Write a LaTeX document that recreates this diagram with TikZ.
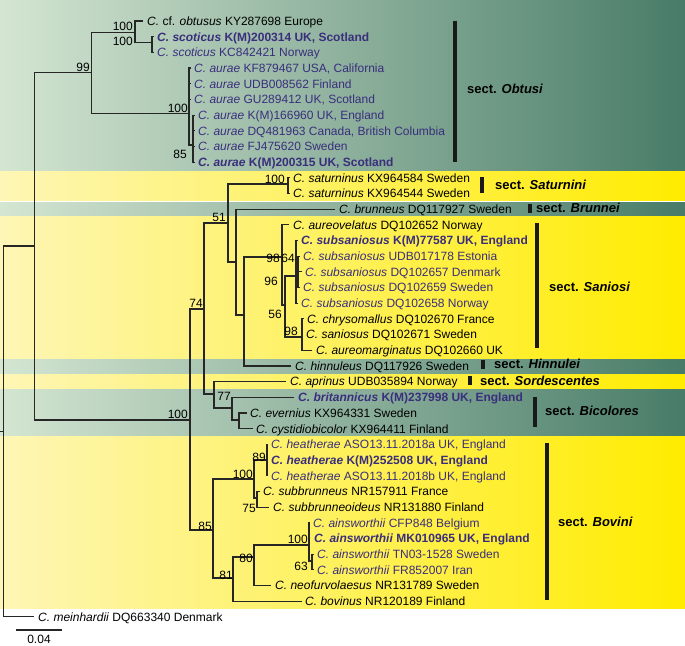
\documentclass[tikz,border=0pt]{standalone}
\usepackage{fontspec}
\setmainfont{Liberation Sans}
\definecolor{pur}{RGB}{58,46,125}
\definecolor{gL}{RGB}{212,230,210}
\definecolor{gR}{RGB}{72,124,104}
\definecolor{yL}{RGB}{254,246,182}
\definecolor{yR}{RGB}{255,236,0}
\begin{document}
\begin{tikzpicture}[x=1pt,y=-1pt,
  leaf/.style={anchor=base west, inner sep=0pt, font=\fontsize{12}{14}\selectfont},
  pl/.style={leaf, text=pur},
  sup/.style={anchor=base east, inner sep=0pt, font=\fontsize{12}{14}\selectfont},
  br/.style={line width=1.1pt, draw=black!85},
  sectlab/.style={anchor=west, inner sep=0pt, font=\fontsize{13}{15}\selectfont\bfseries},
  sectbar/.style={line width=3.3pt, draw=black!90},
  gband/.style={left color=gL, right color=gR},
  yband/.style={left color=yL, right color=yR}]
\useasboundingbox (0,0) rectangle (685,645);
\fill[white] (0,0) rectangle (685,645);
% bands
\shade[gband] (0,0) rectangle (685,170);
\shade[yband] (0,171.5) rectangle (685,200.5);
\shade[gband] (0,202) rectangle (685,215);
\shade[yband] (0,216.5) rectangle (685,358);
\shade[gband] (0,359.5) rectangle (685,373);
\shade[yband] (0,374.5) rectangle (685,388);
\shade[gband] (0,389.5) rectangle (685,435);
\shade[yband] (0,436.5) rectangle (685,608);

% internal nodes
\coordinate (stem) at (0,431.5);
\coordinate (R) at (3.5,431.5);
\coordinate (I) at (34.5,246);
\coordinate (O99) at (91.7,72.7);
\coordinate (Ob) at (135,32.3);
\coordinate (Sc) at (152,42.7);
\coordinate (Au) at (189,113.3);
\coordinate (Au85) at (193,145);
\coordinate (B100) at (190,420);
\coordinate (N74) at (204,309);
\coordinate (N51) at (228,223);
\coordinate (Sat) at (288,184);
\coordinate (Nb) at (236,262);
\coordinate (Nh) at (244,315);
\coordinate (NA) at (282,257);
\coordinate (NB) at (285,305);
\coordinate (NC) at (296,276);
\coordinate (N64) at (298,271);
\coordinate (ND) at (302,337);
\coordinate (Nap) at (214,394);
\coordinate (N77) at (232,408);
\coordinate (Nev) at (239,420);
\coordinate (N85) at (213,530);
\coordinate (N100c) at (254,479);
\coordinate (N89) at (267,460);
\coordinate (Nsub) at (257,498);
\coordinate (N81) at (233,578);
\coordinate (N80) at (254,557);
\coordinate (N100d) at (309,545);
\coordinate (N63) at (312,561);

% tips
\coordinate (t0) at (143,21.0);
\coordinate (t1) at (154,36.7);
\coordinate (t2) at (154,52.4);
\coordinate (t3) at (191,68.0);
\coordinate (t4) at (191,83.7);
\coordinate (t5) at (191,99.4);
\coordinate (t6) at (195,115.1);
\coordinate (t7) at (195,130.8);
\coordinate (t8) at (195,146.4);
\coordinate (t9) at (195,162.1);
\coordinate (t10) at (290,177.8);
\coordinate (t11) at (290,193.5);
\coordinate (t12) at (335,209.2);
\coordinate (t13) at (289,224.8);
\coordinate (t14) at (298,240.5);
\coordinate (t15) at (300,256.2);
\coordinate (t16) at (302,271.9);
\coordinate (t17) at (300,287.6);
\coordinate (t18) at (298,303.2);
\coordinate (t19) at (304,318.9);
\coordinate (t20) at (303,334.6);
\coordinate (t21) at (312,350.3);
\coordinate (t22) at (291,366.0);
\coordinate (t23) at (286,381.6);
\coordinate (t24) at (294,397.3);
\coordinate (t25) at (247,413.0);
\coordinate (t26) at (253,428.7);
\coordinate (t27) at (268,444.4);
\coordinate (t28) at (268,460.0);
\coordinate (t29) at (268,475.7);
\coordinate (t30) at (260,491.4);
\coordinate (t31) at (269,507.1);
\coordinate (t32) at (310,522.8);
\coordinate (t33) at (310,538.4);
\coordinate (t34) at (314,554.1);
\coordinate (t35) at (314,569.8);
\coordinate (t36) at (271,585.5);
\coordinate (t37) at (302,601.2);
\coordinate (t38) at (34,616.8);

% branches
\draw[br] (stem) -- (R);
\draw[br] (R) |- (I);  \draw[br] (R) |- (t38);
\draw[br] (I) |- (O99); \draw[br] (I) |- (B100);
\draw[br] (O99) |- (Ob); \draw[br] (O99) |- (Au);
\draw[br] (Ob) |- (t0); \draw[br] (Ob) |- (Sc);
\draw[br] (Sc) |- (t1); \draw[br] (Sc) |- (t2);
\draw[br] (Au) |- (t3); \draw[br] (Au) |- (t4); \draw[br] (Au) |- (t5); \draw[br] (Au) |- (Au85);
\draw[br] (Au85) |- (t6); \draw[br] (Au85) |- (t7); \draw[br] (Au85) |- (t8); \draw[br] (Au85) |- (t9);
\draw[br] (B100) |- (N74); \draw[br] (B100) |- (N85);
\draw[br] (N74) |- (N51); \draw[br] (N74) |- (Nap);
\draw[br] (N51) |- (Sat); \draw[br] (N51) |- (Nb);
\draw[br] (Sat) |- (t10); \draw[br] (Sat) |- (t11);
\draw[br] (Nb) |- (t12); \draw[br] (Nb) |- (Nh);
\draw[br] (Nh) |- (NA); \draw[br] (Nh) |- (t22);
\draw[br] (NA) |- (t13); \draw[br] (NA) |- (NB);
\draw[br] (NB) |- (NC); \draw[br] (NB) |- (ND);
\draw[br] (NC) |- (t14); \draw[br] (NC) |- (N64); \draw[br] (NC) |- (t18);
\draw[br] (N64) |- (t15); \draw[br] (N64) |- (t16); \draw[br] (N64) |- (t17);
\draw[br] (ND) |- (t19); \draw[br] (ND) |- (t20); \draw[br] (ND) |- (t21);
\draw[br] (Nap) |- (t23); \draw[br] (Nap) |- (N77);
\draw[br] (N77) |- (t24); \draw[br] (N77) |- (Nev);
\draw[br] (Nev) |- (t25); \draw[br] (Nev) |- (t26);
\draw[br] (N85) |- (N100c); \draw[br] (N85) |- (N81);
\draw[br] (N100c) |- (N89); \draw[br] (N100c) |- (Nsub);
\draw[br] (N89) |- (t27); \draw[br] (N89) |- (t28); \draw[br] (N89) |- (t29);
\draw[br] (Nsub) |- (t30); \draw[br] (Nsub) |- (t31);
\draw[br] (N81) |- (N80); \draw[br] (N81) |- (t37);
\draw[br] (N80) |- (N100d); \draw[br] (N80) |- (t36);
\draw[br] (N100d) |- (t32); \draw[br] (N100d) |- (t33); \draw[br] (N100d) |- (N63);
\draw[br] (N63) |- (t34); \draw[br] (N63) |- (t35);

% support values
\node[sup] (s1) at (133,30) {100};
\node[sup] (s2) at (133,45) {100};
\node[sup] (s3) at (90,71) {99};
\node[sup] (s4) at (188,112) {100};
\node[sup] (s5) at (187,158) {85};
\node[sup] (s6) at (188,418) {100};
\node[sup] (s7) at (203,307) {74};
\node[sup] (s8) at (226,221) {51};
\node[sup] (s9) at (285,183) {100};
\node[sup] (s10) at (280,262) {98};
\node[sup] (s11) at (295,262) {64};
\node[sup] (s12) at (278,285) {96};
\node[sup] (s13) at (282,318) {56};
\node[sup] (s14) at (298,335) {98};
\node[sup] (s15) at (231,400) {77};
\node[sup] (s16) at (212,530) {85};
\node[sup] (s17) at (253,478) {100};
\node[sup] (s18) at (266,461) {89};
\node[sup] (s19) at (256,512) {75};
\node[sup] (s20) at (233,579) {81};
\node[sup] (s21) at (253,562) {80};
\node[sup] (s22) at (308,543) {100};
\node[sup] (s23) at (308,570) {63};

% leaf labels
\node[leaf] (L0) at (147,25.3) {\textit{C.} cf. \textit{obtusus} KY287698 Europe};
\node[pl] (L1) at (157,41.0) {\textbf{\textit{C. scoticus} K(M)200314 UK, Scotland}};
\node[pl] (L2) at (157,56.7) {\textit{C. scoticus} KC842421 Norway};
\node[pl] (L3) at (194,72.3) {\textit{C. aurae} KF879467 USA, California};
\node[pl] (L4) at (194,88.0) {\textit{C. aurae} UDB008562 Finland};
\node[pl] (L5) at (194,103.7) {\textit{C. aurae} GU289412 UK, Scotland};
\node[pl] (L6) at (198,119.4) {\textit{C. aurae} K(M)166960 UK, England};
\node[pl] (L7) at (198,135.1) {\textit{C. aurae} DQ481963 Canada, British Columbia};
\node[pl] (L8) at (198,150.7) {\textit{C. aurae} FJ475620 Sweden};
\node[pl] (L9) at (198,166.4) {\textbf{\textit{C. aurae} K(M)200315 UK, Scotland}};
\node[leaf] (L10) at (293,182.1) {\textit{C. saturninus} KX964584 Sweden};
\node[leaf] (L11) at (293,197.8) {\textit{C. saturninus} KX964544 Sweden};
\node[leaf] (L12) at (339,213.5) {\textit{C. brunneus} DQ117927 Sweden};
\node[leaf] (L13) at (293,229.1) {\textit{C. aureovelatus} DQ102652 Norway};
\node[pl] (L14) at (301,244.8) {\textbf{\textit{C. subsaniosus} K(M)77587 UK, England}};
\node[pl] (L15) at (303,260.5) {\textit{C. subsaniosus} UDB017178 Estonia};
\node[pl] (L16) at (305,276.2) {\textit{C. subsaniosus} DQ102657 Denmark};
\node[pl] (L17) at (303,291.9) {\textit{C. subsaniosus} DQ102659 Sweden};
\node[pl] (L18) at (301,307.5) {\textit{C. subsaniosus} DQ102658 Norway};
\node[leaf] (L19) at (307,323.2) {\textit{C. chrysomallus} DQ102670 France};
\node[leaf] (L20) at (306,338.9) {\textit{C. saniosus} DQ102671 Sweden};
\node[leaf] (L21) at (316,354.6) {\textit{C. aureomarginatus} DQ102660 UK};
\node[leaf] (L22) at (295,370.3) {\textit{C. hinnuleus} DQ117926 Sweden};
\node[leaf] (L23) at (290,385.9) {\textit{C. aprinus} UDB035894 Norway};
\node[pl] (L24) at (298,401.6) {\textbf{\textit{C. britannicus} K(M)237998 UK, England}};
\node[leaf] (L25) at (250,417.3) {\textit{C. evernius} KX964331 Sweden};
\node[leaf] (L26) at (256,433.0) {\textit{C. cystidiobicolor} KX964411 Finland};
\node[pl] (L27) at (271,448.7) {\textit{C. heatherae} ASO13.11.2018a UK, England};
\node[pl] (L28) at (271,464.3) {\textbf{\textit{C. heatherae} K(M)252508 UK, England}};
\node[pl] (L29) at (271,480.0) {\textit{C. heatherae} ASO13.11.2018b UK, England};
\node[leaf] (L30) at (263,495.7) {\textit{C. subbrunneus} NR157911 France};
\node[leaf] (L31) at (273,511.4) {\textit{C. subbrunneoideus} NR131880 Finland};
\node[pl] (L32) at (313,527.1) {\textit{C. ainsworthii} CFP848 Belgium};
\node[pl] (L33) at (314,542.7) {\textbf{\textit{C. ainsworthii} MK010965 UK, England}};
\node[pl] (L34) at (317,558.4) {\textit{C. ainsworthii} TN03-1528 Sweden};
\node[pl] (L35) at (317,574.1) {\textit{C. ainsworthii} FR852007 Iran};
\node[leaf] (L36) at (275,589.8) {\textit{C. neofurvolaesus} NR131789 Sweden};
\node[leaf] (L37) at (305,605.5) {\textit{C. bovinus} NR120189 Finland};
\node[leaf] (L38) at (38,621.1) {\textit{C. meinhardii} DQ663340 Denmark};

% section bars
\coordinate (obA) at (455,20.7); \coordinate (obB) at (455,161.7);
\coordinate (saA) at (482,177); \coordinate (saB) at (482,193);
\coordinate (bruA) at (530,204); \coordinate (bruB) at (530,213);
\coordinate (snA) at (537,223); \coordinate (snB) at (537,348);
\coordinate (hiA) at (483,359.5); \coordinate (hiB) at (483,368.5);
\coordinate (soA) at (470,376); \coordinate (soB) at (470,385);
\coordinate (biA) at (535,397); \coordinate (biB) at (535,427);
\coordinate (boA) at (547,443); \coordinate (boB) at (547,600);
\draw[sectbar] (obA) -- (obB);
\draw[sectbar] (saA) -- (saB);
\draw[sectbar] (bruA) -- (bruB);
\draw[sectbar] (snA) -- (snB);
\draw[sectbar] (hiA) -- (hiB);
\draw[sectbar] (soA) -- (soB);
\draw[sectbar] (biA) -- (biB);
\draw[sectbar] (boA) -- (boB);
\node[sectlab] (sOb) at (467,89) {sect. \textit{Obtusi}};
\node[sectlab] (sSa) at (495,184.5) {sect. \textit{Saturnini}};
\node[sectlab] (sBr) at (536,208) {sect. \textit{Brunnei}};
\node[sectlab] (sSn) at (549,287) {sect. \textit{Saniosi}};
\node[sectlab] (sHi) at (494,364) {sect. \textit{Hinnulei}};
\node[sectlab] (sSo) at (480,380.5) {sect. \textit{Sordescentes}};
\node[sectlab] (sBi) at (545,411) {sect. \textit{Bicolores}};
\node[sectlab] (sBo) at (558,522) {sect. \textit{Bovini}};

% scale bar
\coordinate (sbL) at (16,630); \coordinate (sbR) at (62,630);
\draw[line width=1.1pt, draw=black!85] (sbL) -- (sbR);
\node[anchor=base, inner sep=0pt, font=\fontsize{12}{14}\selectfont] (sbT) at (39,643) {0.04};
\end{tikzpicture}
\end{document}
